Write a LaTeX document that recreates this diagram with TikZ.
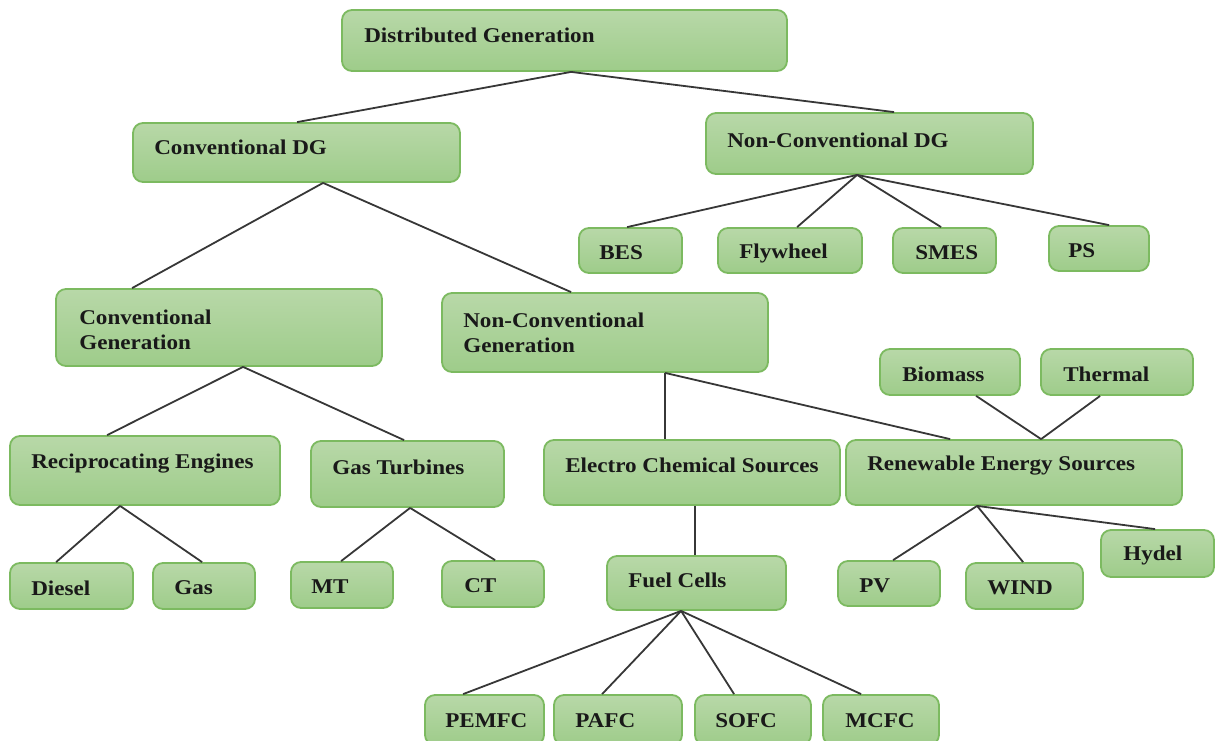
\documentclass[tikz,border=0pt]{standalone}
\usepackage{fontspec}
\setmainfont{Liberation Serif}[FakeStretch=1.1]
\usetikzlibrary{fit,calc}
\definecolor{gtop}{RGB}{184,216,168}
\definecolor{gbot}{RGB}{158,204,138}
\definecolor{gbrd}{RGB}{124,186,96}
\definecolor{lnc}{RGB}{55,55,55}
\tikzset{
  gbox/.style={draw=gbrd, line width=1.8pt, rounded corners=10pt, top color=gtop, bottom color=gbot, inner sep=0pt},
  lbl/.style={anchor=west, inner sep=0pt, font=\fontsize{21}{25}\selectfont\bfseries, text=black!90, align=left},
  conn/.style={draw=lnc, line width=1.8pt}
}
\newcommand\gb[8]{%
  \node[gbox, fit={(#2,#3) (#4,#5)}] (#1) {};
  \node[lbl] (#1-t) at ($(#1.north west)+(#6,#7+2)$) {#8};
}
\newcommand\cn[4]{\draw[conn] ([xshift=#2pt]#1.south west) -- ([xshift=#4pt]#3.north west);}
\begin{document}
\begin{tikzpicture}[x=1pt,y=-1pt]
\useasboundingbox (0,0) rectangle (1216,740);
\gb{dg}{342}{10}{787}{71}{23}{24}{Distributed Generation}
\gb{cdg}{133}{123}{460}{182}{22}{23}{Conventional DG}
\gb{ncdg}{706}{113}{1033}{174}{22}{26}{Non-Conventional DG}
\gb{bes}{579}{228}{682}{273}{21}{24}{BES}
\gb{fly}{718}{228}{862}{273}{22}{24}{Flywheel}
\gb{smes}{893}{228}{996}{273}{23}{24}{SMES}
\gb{ps}{1049}{226}{1149}{271}{20}{24}{PS}
\gb{cg}{56}{289}{382}{366}{24}{40}{Conventional\\Generation}
\gb{ncg}{442}{293}{768}{372}{22}{39}{Non-Conventional\\Generation}
\gb{bio}{880}{349}{1020}{395}{23}{24}{Biomass}
\gb{th}{1041}{349}{1193}{395}{23}{24}{Thermal}
\gb{re}{10}{436}{280}{505}{22}{26}{Reciprocating Engines}
\gb{gt}{311}{441}{504}{507}{22}{25}{Gas Turbines}
\gb{ec}{544}{440}{840}{505}{22}{24}{Electro Chemical Sources}
\gb{res}{846}{440}{1182}{505}{22}{24}{Renewable Energy Sources}
\gb{die}{10}{563}{133}{609}{22}{24}{Diesel}
\gb{gas}{153}{563}{255}{609}{22}{24}{Gas}
\gb{mt}{291}{562}{393}{608}{21}{24}{MT}
\gb{ct}{442}{561}{544}{607}{23}{24}{CT}
\gb{fc}{607}{556}{786}{610}{22}{23}{Fuel Cells}
\gb{pv}{838}{561}{940}{606}{22}{24}{PV}
\gb{wind}{966}{563}{1083}{609}{22}{24}{WIND}
\gb{hy}{1101}{530}{1214}{577}{23}{24}{Hydel}
\gb{pem}{425}{695}{544}{745}{21}{25}{PEMFC}
\gb{pafc}{554}{695}{682}{745}{22}{25}{PAFC}
\gb{sofc}{695}{695}{811}{745}{21}{25}{SOFC}
\gb{mcfc}{823}{695}{939}{745}{23}{25}{MCFC}
% connectors
\cn{dg}{230}{cdg}{165}
\cn{dg}{230}{ncdg}{189}
\cn{cdg}{191}{cg}{77}
\cn{cdg}{191}{ncg}{130}
\cn{ncdg}{152}{bes}{49}
\cn{ncdg}{152}{fly}{80}
\cn{ncdg}{152}{smes}{49}
\cn{ncdg}{152}{ps}{61}
\cn{cg}{188}{re}{98}
\cn{cg}{188}{gt}{94}
\cn{ncg}{224}{ec}{122}
\cn{ncg}{224}{res}{105}
\cn{bio}{97}{res}{196}
\cn{th}{60}{res}{196}
\cn{re}{111}{die}{47}
\cn{re}{111}{gas}{50}
\cn{gt}{100}{mt}{51}
\cn{gt}{100}{ct}{54}
\cn{ec}{152}{fc}{89}
\cn{res}{132}{pv}{56}
\cn{res}{132}{wind}{58}
\cn{res}{132}{hy}{55}
\cn{fc}{75}{pem}{39}
\cn{fc}{75}{pafc}{49}
\cn{fc}{75}{sofc}{40}
\cn{fc}{75}{mcfc}{39}
\end{tikzpicture}
\end{document}
